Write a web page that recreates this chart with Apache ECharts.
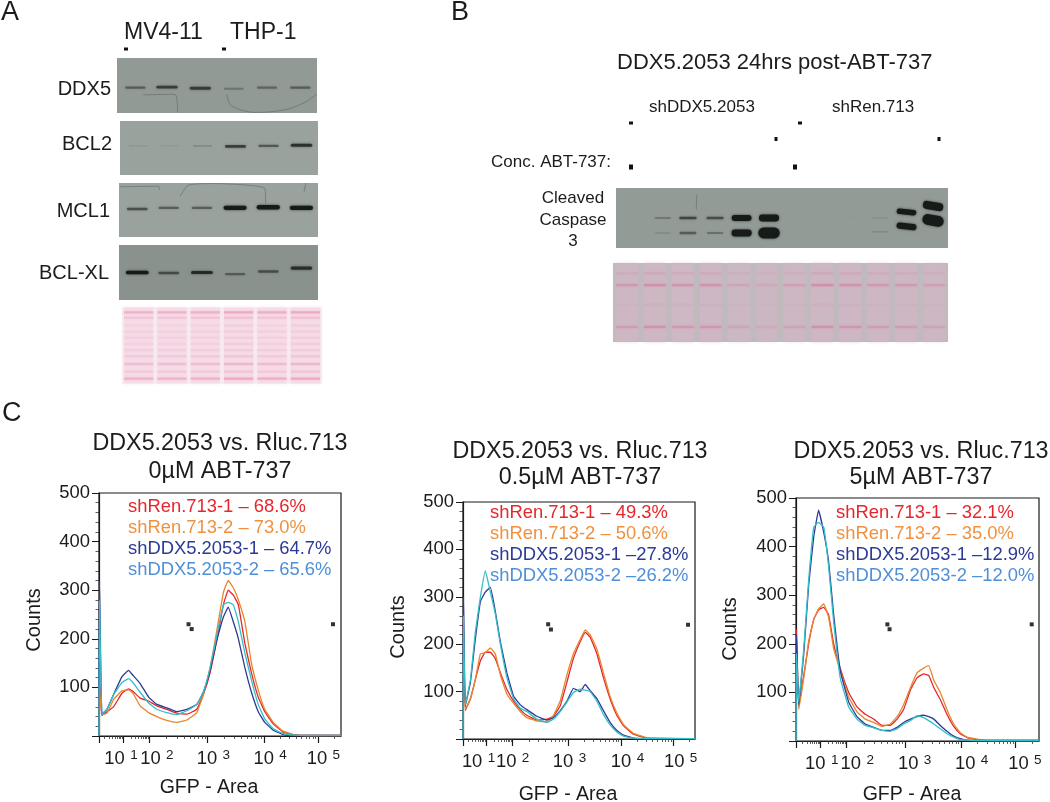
<!DOCTYPE html>
<html><head><meta charset="utf-8">
<style>html,body{margin:0;padding:0;background:#fff}#c{width:1050px;height:802px}</style>
<script src="https://cdn.jsdelivr.net/npm/echarts@6/dist/echarts.min.js"></script>
</head><body><div id="c"></div>
<script>
// ---------- histogram data (x = display channel, 0-100 of the biexponential GFP axis) ----------
const p1Channels=[0,.2,1.2,3.3,6,9.5,12.2,14,17,20.5,23.9,28,32.1,36.3,40.4,43.1,45.9,48.6,51.4,53.4,55.5,57.6,60.3,63,65.8,68.5,72,76.1,80.2,85.7,100];
const p1Red=[0,110,42,50,60,88,97,92,78,72,62,55,47,45,55,85,130,195,270,300,290,270,190,130,80,50,25,8,3,1,1];
const p1Orange=[0,100,44,47,75,93,95,88,62,48,40,32,28,33,48,85,140,215,295,320,305,280,235,150,95,55,28,10,3,1,1];
const p1Navy=[0,320,45,55,85,122,135,125,108,80,65,58,50,55,65,90,135,195,245,265,235,200,140,90,50,28,12,3,1,1,1];
const p1Teal=[0,280,45,55,85,110,118,110,90,68,55,48,44,52,65,90,140,205,270,275,270,235,170,115,65,35,15,5,2,1,1];
const p2Channels=[0,.2,1,3.2,5.3,7.5,9.6,11.8,13.9,16.1,18.9,21.8,24.7,27.5,31.8,36.2,39,41.9,44.8,47.6,50.5,52.7,54.8,57.7,60.5,63.4,66.3,69.2,73.5,79.2,100];
const p2Red=[0,240,60,85,125,165,183,183,170,140,105,80,62,50,40,42,48,70,120,170,205,225,215,180,130,85,50,28,10,2,1];
const p2Orange=[0,200,62,85,125,180,182,192,180,135,95,75,58,45,38,36,50,80,135,180,210,230,220,190,140,90,55,30,12,3,1];
const p2Navy=[0,300,70,120,210,290,310,320,270,205,140,90,72,62,48,40,45,60,80,107,100,115,102,85,60,35,18,8,2,1,1];
const p2Teal=[0,260,72,125,225,300,355,310,265,200,130,85,65,58,42,35,42,58,78,98,105,103,100,80,52,30,15,6,2,1,1];
const p3Channels=[0,.2,1.1,3.2,5.2,7.3,9.3,11.4,13.4,15.5,18.2,21.7,25.1,28.5,32,35.4,38.8,41.6,44.3,47.1,49.8,52.5,54.6,56.7,59.4,62.1,64.9,67.6,70.4,74.5,80,100];
const p3Red=[0,230,70,135,200,250,270,275,260,200,150,100,70,55,45,32,32,45,65,105,130,138,135,110,85,55,30,15,7,3,1,1];
const p3Orange=[0,190,65,130,205,250,272,282,255,190,145,90,60,45,38,30,35,50,75,110,140,150,155,125,100,65,35,17,8,4,1,1];
const p3Navy=[0,220,75,180,320,420,475,430,370,260,145,80,50,35,28,22,22,28,38,45,50,53,50,45,32,20,10,5,2,1,1,1];
const p3Teal=[0,180,80,190,330,440,450,440,360,245,130,70,45,32,27,22,20,25,35,42,52,48,42,35,25,15,8,3,2,1,1,1];
const p1Labels=['shRen.713-1 – 68.6%','shRen.713-2 – 73.0%','shDDX5.2053-1 – 64.7%','shDDX5.2053-2 – 65.6%'];
const p2Labels=['shRen.713-1 – 49.3%','shRen.713-2 – 50.6%','shDDX5.2053-1 –27.8%','shDDX5.2053-2 –26.2%'];
const p3Labels=['shRen.713-1 – 32.1%','shRen.713-2 – 35.0%','shDDX5.2053-1 –12.9%','shDDX5.2053-2 –12.0%'];
const p1Gate=[[37,230],[38.3,220],[96.7,230]];
const p2Gate=[[36.7,242],[37.9,231],[97,241]];
const p3Gate=[[37.6,240],[38.5,230],[97,240]];
const p1Decades=[9.9,20.7,44.9,68.1,90.5], p1LabelAt=[9.1,23.9,47.3,70.7,92.7];
const p2Decades=[9.9,21.1,45.2,68.1,90.7], p2LabelAt=[6.7,21.4,45.9,70.9,93.8];
const p3Decades=[10,20.6,44.9,68,90.4], p3LabelAt=[10.6,25.2,48.8,72.3,94.2];
const exponents=['1','2','3','4','5'];
// ---------- western blot data (lane position, band height fraction, band signal, band tilt) ----------
const sixLanes=[.55,1.5,2.5,3.5,4.5,5.5];
const ddx5Y=[.46,.47,.45,.44,.46,.46], ddx5Signal=[.4,.6,.6,.25,.35,.4];
const bcl2Y=[.54,.54,.54,.53,.54,.55], bcl2Signal=[.08,.06,.15,.6,.45,.7];
const mcl1Y=[.52,.54,.54,.54,.55,.54], mcl1Signal=[.5,.42,.42,1.2,1.25,1.25];
const bclxlY=[.5,.49,.5,.47,.52,.58], bclxlSignal=[.95,.5,.75,.38,.48,.7];
const caspLanes=[1.69,2.6,3.58,4.54,5.53,8.57,9.54,10.5,11.46];
const caspUpperY=[.5,.5,.5,.5,.5,.5,.5,.6,.7], caspUpperSignal=[.22,.55,.5,1.9,2.2,.02,.08,1.7,2.7];
const caspLowerY=[.25,.25,.25,.25,.25,.25,.27,.36,.46], caspLowerSignal=[.12,.4,.28,2.2,3.8,0,.12,2,3.8];
const caspTilt=[0,0,0,0,0,0,0,6,10];
const ddx5Scratches=[[[.79,.33],[1.74,.34],[1.82,.01]],[[3.29,.34],[3.39,.15],[3.69,.06],[4.09,.01],[4.59,.02],[5.19,.08],[5.69,.21],[5.99,.34]]];
const mcl1Scratches=[[[.03,.93],[1.19,.94],[1.22,.87]],[[1.84,.75],[2.09,.96],[2.89,.99],[4.4,.9],[4.42,.62]],[[5.58,.84],[5.64,1]]];
const caspScratches=[[[2.92,.89],[2.9,.64]]];
const ponceauALoad=[.8,.8,.85,1,.9,1];
const ponceauARows=[.93,.86,.76,.68,.6,.52,.44,.36,.26,.16,.07];
const ponceauAStain=[.5,.25,.1,.12,.12,.12,.14,.2,.35,.2,.5];
const ponceauBLoad=[.7,1,.8,.9,.45,.3,.5,1,.9,.7,.7,.5];
const ponceauBRows=[.87,.72,.47,.19];
const ponceauBStain=[.2,.6,.08,.55];

const FONT='"Liberation Sans",Arial,sans-serif', INK='#1c1c1c';
const RED='#e6262c',ORANGE='#e8862e',NAVY='#2c3a96',TEAL='#33bfc6';
const LEGEND_COL=[RED,'#f0913f',NAVY,'#4f8fd8'];

const grid=[],xAxis=[],yAxis=[],series=[],legend=[];
function hiddenAxes(xmax){
  xAxis.push({type:'value',gridIndex:grid.length-1,min:0,max:xmax,show:false});
  yAxis.push({type:'value',gridIndex:grid.length-1,min:0,max:1,show:false});
  return xAxis.length-1;
}
function bandSeries(idx,data,laneW){
  series.push({type:'custom',xAxisIndex:idx,yAxisIndex:idx,silent:true,clip:true,data,
    renderItem(p,api){
      const s=api.value(2);if(s<=0)return;
      const c=api.coord([api.value(0),api.value(1)]);
      const w=laneW*(.56+.1*Math.min(s,1)+.03*s),h=1.3+2.5*s;
      return{type:'rect',x:c[0],y:c[1],rotation:-(api.value(3)||0)*Math.PI/180,
        shape:{x:-w/2,y:-h/2,width:w,height:h,r:h/2},
        style:{fill:'rgba(22,26,24,'+Math.min(1,s*1.05)+')',shadowBlur:2.5,shadowColor:'rgba(22,26,24,'+Math.min(.7,s)+')'}};
    }});
}
function scratchSeries(idx,lines){
  lines.forEach(l=>series.push({type:'line',xAxisIndex:idx,yAxisIndex:idx,data:l,showSymbol:false,silent:true,
    lineStyle:{color:'#626a65',width:.6},smooth:.2}));
}
function blot(left,top,w,h,bg,lanes,ys,signals,scratches){
  grid.push({left,top,width:w,height:h,show:true,backgroundColor:bg,borderWidth:0});
  const idx=hiddenAxes(6);
  bandSeries(idx,lanes.map((x,i)=>[x,ys[i],signals[i]]),w/6);
  if(scratches)scratchSeries(idx,scratches);
}
function ponceau(left,top,w,h,bg,laneFill,stainRGB,load,rows,stain,laneFrac){
  const n=load.length;
  grid.push({left,top,width:w,height:h,show:true,backgroundColor:bg,borderWidth:0});
  const idx=hiddenAxes(n);
  const laneW=w/n*laneFrac;
  series.push({type:'custom',xAxisIndex:idx,yAxisIndex:idx,silent:true,data:load.map((v,i)=>[i+.5,v]),
    renderItem(p,api){
      const a=api.coord([api.value(0),.99]),b=api.coord([api.value(0),.01]);
      return{type:'rect',shape:{x:a[0]-laneW/2,y:a[1],width:laneW,height:b[1]-a[1]},
        style:{fill:laneFill,opacity:.4+.6*api.value(1),shadowBlur:4,shadowColor:laneFill}};
    }});
  const cells=[];
  load.forEach((v,i)=>rows.forEach((r,j)=>cells.push([i+.5,r,v*stain[j]])));
  series.push({type:'custom',xAxisIndex:idx,yAxisIndex:idx,silent:true,data:cells,
    renderItem(p,api){
      const c=api.coord([api.value(0),api.value(1)]);
      return{type:'rect',shape:{x:c[0]-laneW/2,y:c[1]-1.2,width:laneW,height:2.4},
        style:{fill:'rgba('+stainRGB+','+(.65*api.value(2))+')',shadowBlur:2.5,shadowColor:'rgba('+stainRGB+',.35)'}};
    }});
}
function minorTicks(dec){
  const out=[];
  const edges=[dec[0]-(dec[1]-dec[0])].concat(dec,[dec[4]+(dec[4]-dec[3])]);
  for(let i=0;i<edges.length-1;i++)for(let k=2;k<=9;k++){
    const v=edges[i]+Math.log10(k)*(edges[i+1]-edges[i]);
    if(v>0&&v<100)out.push(v);
  }
  return out;
}
function flowPanel(box,channels,curves,labels,gate,decades,labelAt,legendPos){
  grid.push({left:box[0],top:box[1],width:box[2]-box[0],height:box[3]-box[1],show:true,backgroundColor:'#fff',
    borderColor:'#1a1a1a',borderWidth:1.2});
  const g=grid.length-1;
  const ix=xAxis.length;
  xAxis.push({type:'value',gridIndex:g,min:0,max:100,splitLine:{show:false},
    axisLine:{show:true,onZero:false,lineStyle:{color:'#1a1a1a',width:1}},
    axisTick:{show:true,length:7,lineStyle:{color:'#1a1a1a',width:1.2},customValues:[0].concat(decades)},
    axisLabel:{show:true,customValues:labelAt,margin:12,hideOverlap:false,showMinLabel:true,showMaxLabel:true,
      formatter:v=>{const i=labelAt.indexOf(v);return i<0?'':'{n|10} {s|'+exponents[i]+'}';},
      rich:{n:{fontFamily:FONT,fontSize:18.4,color:INK},s:{fontFamily:FONT,fontSize:13.5,color:INK,padding:[0,0,7,2]}}}});
  xAxis.push({type:'value',gridIndex:g,min:0,max:100,splitLine:{show:false},position:'bottom',
    axisLine:{show:false},axisLabel:{show:false},
    axisTick:{show:true,length:3,lineStyle:{color:'#333',width:.8},customValues:minorTicks(decades)}});
  yAxis.push({type:'value',gridIndex:g,min:0,max:500,interval:100,splitLine:{show:false},
    axisLine:{show:true,onZero:false,lineStyle:{color:'#1a1a1a',width:1.2}},
    axisTick:{show:true,length:7,lineStyle:{color:'#1a1a1a',width:1}},
    minorTick:{show:true,splitNumber:5,length:3.5,lineStyle:{color:'#333',width:.8}},minorSplitLine:{show:false},
    axisLabel:{fontFamily:FONT,fontSize:18.4,color:INK,margin:9,formatter:v=>v===0?'':String(v)}});
  const iy=yAxis.length-1;
  [RED,ORANGE,NAVY,TEAL].forEach((col,i)=>{
    series.push({type:'line',name:labels[i],xAxisIndex:ix,yAxisIndex:iy,data:channels.map((x,k)=>[x,curves[i][k]]),
      showSymbol:false,smooth:.1,lineStyle:{color:col,width:1.3},itemStyle:{color:col},silent:true});
  });
  series.push({type:'scatter',xAxisIndex:ix,yAxisIndex:iy,data:gate,symbol:'rect',symbolSize:[4,4],
    itemStyle:{color:'#000'},silent:true});
  legend.push({data:labels.map((n,i)=>({name:n,textStyle:{color:LEGEND_COL[i]}})),orient:'vertical',left:legendPos[0],top:legendPos[1],
    padding:0,itemWidth:0,itemHeight:0,itemGap:0,icon:'rect',selectedMode:false,
    textStyle:{fontFamily:FONT,fontSize:18.4,lineHeight:20.8,padding:[0,0,0,-5]}});
}

// Panel A blots
blot(117,58,200,55,'#929a95',sixLanes,ddx5Y,ddx5Signal,ddx5Scratches);
blot(120,121,198,54,'#9aa29d',sixLanes,bcl2Y,bcl2Signal);
blot(119,183,199,54,'#99a29c',sixLanes,mcl1Y,mcl1Signal,mcl1Scratches);
blot(119,245,199,55,'#8a928e',sixLanes,bclxlY,bclxlSignal);
ponceau(122,307,200,77,'#f7f1f4','#f5dbe6','226,90,140',ponceauALoad,ponceauARows,ponceauAStain,.88);
// Panel B blots
grid.push({left:616,top:188,width:332,height:60,show:true,backgroundColor:'#929b96',borderWidth:0});
{const i=hiddenAxes(12);
 bandSeries(i,caspLanes.map((x,k)=>[x,caspUpperY[k],caspUpperSignal[k],caspTilt[k]]),27.7);
 bandSeries(i,caspLanes.map((x,k)=>[x,caspLowerY[k],caspLowerSignal[k],caspTilt[k]]),27.7);
 scratchSeries(i,caspScratches);}
ponceau(613,263,335,79,'#bfbbbe','#cdb7c3','222,90,140',ponceauBLoad,ponceauBRows,ponceauBStain,.78);
// Panel C histograms
flowPanel([99,493,341,736],p1Channels,[p1Red,p1Orange,p1Navy,p1Teal],p1Labels,p1Gate,p1Decades,p1LabelAt,[128,497]);
flowPanel([463,502,695,739],p2Channels,[p2Red,p2Orange,p2Navy,p2Teal],p2Labels,p2Gate,p2Decades,p2LabelAt,[490,503]);
flowPanel([796,498,1039,741],p3Channels,[p3Red,p3Orange,p3Navy,p3Teal],p3Labels,p3Gate,p3Decades,p3LabelAt,[836,503]);

// text and small marks
function T(text,x,y,size,align,rot){
  return{type:'text',x,y,rotation:rot||0,silent:true,z:50,style:{text,fontFamily:FONT,fontSize:size,fill:INK,align:align||'left',verticalAlign:'middle'}};
}
function dot(x,y,w,h){return{type:'rect',shape:{x:x-w/2,y:y-h/2,width:w,height:h},silent:true,z:50,style:{fill:'#111'}};}
const graphics=[
 T('A',1,13,27),T('B',451,13,27),T('C',2,414,27),
 T('MV4-11',124,33,23),T('THP-1',230,33,23),
 T('DDX5',111,89,20,'right'),T('BCL2',112,144,20,'right'),T('MCL1',110,211,20,'right'),T('BCL-XL',109,273,20,'right'),
 dot(126,49,4,3),dot(224,49,4,3),
 T('DDX5.2053 24hrs post-ABT-737',617,63,22),
 T('shDDX5.2053',649,107,17),T('shRen.713',832,107,17),
 T('Conc. ABT-737:',611,162,17,'right'),
 T('Cleaved',573,198,17,'center'),T('Caspase',573,220,17,'center'),T('3',573,241,17,'center'),
 dot(631,123,4,3),dot(800,123,4,3),dot(776,139,3,4),dot(939,139,3,4),dot(631,167,4,5),dot(795,167,4,5),
 T('DDX5.2053 vs. Rluc.713',220,444,23.3,'center'),T('0µM ABT-737',220,472,23.3,'center'),
 T('DDX5.2053 vs. Rluc.713',580,452,23.3,'center'),T('0.5µM ABT-737',580,478,23.3,'center'),
 T('DDX5.2053 vs. Rluc.713',921,452,23.3,'center'),T('5µM ABT-737',921,478,23.3,'center'),
 T('Counts',34,620,20,'center',Math.PI/2),T('Counts',398,627,20,'center',Math.PI/2),T('Counts',730,629,20,'center',Math.PI/2),
 T('GFP - Area',209,788,19.5,'center'),T('GFP - Area',568,795,19.5,'center'),T('GFP - Area',912,795,19.5,'center')
];
const chart=echarts.init(document.getElementById('c'),null,{renderer:'canvas',width:1050,height:802});
chart.setOption({animation:false,backgroundColor:'#fff',grid,xAxis,yAxis,series,legend,graphic:graphics});
</script></body></html>
